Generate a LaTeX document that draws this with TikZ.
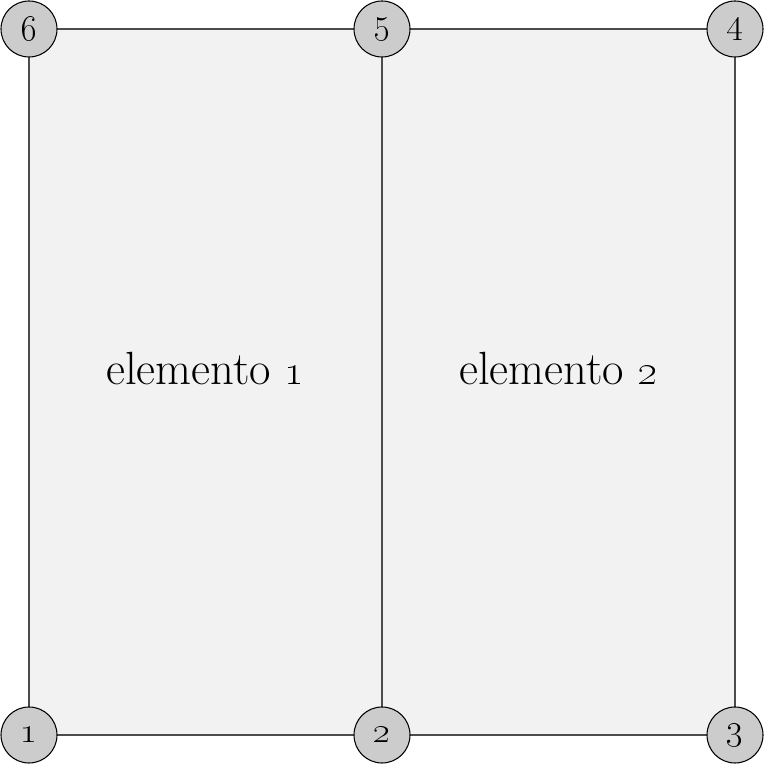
\documentclass[tikz,border=0pt]{standalone}
\usetikzlibrary{positioning, calc}

\begin{document}
\begin{tikzpicture}[
  %% element faces
  elem/.style={draw=black!70, fill=black!5, line width=0.6pt},
  %% global nodes
  nodo/.style={
    circle, draw=black, fill=black!20, line width=0.6pt,
    minimum size=1.12cm, inner sep=0pt,
    font=\fontsize{21}{25}\selectfont
  },
  %% element labels
  etq/.style={font=\fontsize{26.5}{30}\selectfont}
]
\useasboundingbox (0,0) rectangle (15.28,15.28);

%% ================================================================
%% CORNER POINTS
%% ================================================================
\coordinate (p1) at (0.58, 0.58);
\coordinate (p2) at (7.64, 0.58);
\coordinate (p3) at (14.70, 0.58);
\coordinate (p4) at (14.70, 14.70);
\coordinate (p5) at (7.64, 14.70);
\coordinate (p6) at (0.58, 14.70);

%% ================================================================
%% ELEMENTS
%% ================================================================
\draw[elem] (p1) rectangle (p5);
\draw[elem] (p2) rectangle (p4);

\node[etq] (e1) at ($(p1)!0.5!(p5) + (0, 0.26)$) {elemento \oldstylenums{1}};
\node[etq] (e2) at ($(p2)!0.5!(p4) + (0, 0.26)$) {elemento \oldstylenums{2}};

%% ================================================================
%% NODES
%% ================================================================
\foreach \i in {1,...,6}
  \node[nodo] (n\i) at (p\i) {\oldstylenums{\i}};

\end{tikzpicture}
\end{document}
